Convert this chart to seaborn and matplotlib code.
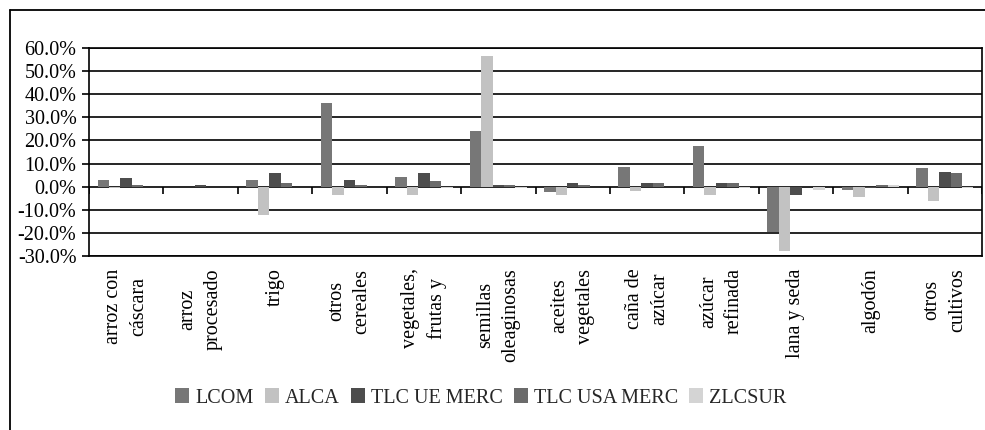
import numpy as np
import pandas as pd
import matplotlib
matplotlib.use("Agg")
import matplotlib.pyplot as plt
from matplotlib.lines import Line2D
from matplotlib.ticker import FuncFormatter
import seaborn as sns

# Crop categories (axis labels, two lines where the label wraps)
categories = [
    "arroz con\ncáscara", "arroz\nprocesado", "trigo", "otros\ncereales",
    "vegetales,\nfrutas y", "semillas\noleaginosas", "aceites\nvegetales",
    "caña de\nazúcar", "azúcar\nrefinada", "lana y seda", "algodón",
    "otros\ncultivos",
]
series_names = ["LCOM", "ALCA", "TLC UE MERC", "TLC USA MERC", "ZLCSUR"]

# Percentage change per scenario
lcom = [2.8, 0.0, 3.1, 36.4, 4.0, 24.0, -2.4, 8.6, 17.7, -19.7, -1.6, 7.9]
alca = [-0.5, 0.0, -12.4, -3.4, -3.4, 56.6, -3.8, -1.7, -3.4, -27.9, -4.5, -6.4]
tlc_ue = [3.9, 0.8, 5.7, 3.0, 6.0, 0.8, 1.7, 1.7, 1.7, -3.4, -0.6, 6.2]
tlc_usa = [0.8, 0.0, 1.7, 0.9, 2.6, 0.8, 0.9, 1.7, 1.7, 0.0, 0.8, 5.8]
zlcsur = [0.0, 0.0, 0.0, 0.0, -0.6, -0.5, 0.0, 0.0, -0.5, -1.6, 0.6, -0.5]

yticks = [-30, -20, -10, 0, 10, 20, 30, 40, 50, 60]
colors = ["#777777", "#c2c2c2", "#4d4d4d", "#6b6b6b", "#d4d4d4"]

sns.set_theme(style="white")
plt.rcParams["font.family"] = ["Liberation Serif", "DejaVu Serif"]
plt.rcParams["font.size"] = 14

rows = []
for name, vals in zip(series_names, [lcom, alca, tlc_ue, tlc_usa, zlcsur]):
    for cat, v in zip(categories, vals):
        rows.append({"categoria": cat, "serie": name, "valor": v})
df = pd.DataFrame(rows)

W, H = 985, 430
fig = plt.figure(figsize=(W / 100, H / 100), dpi=100)
fig.patch.set_facecolor("white")
ax = fig.add_axes([89 / W, 1 - 256 / H, (982 - 89) / W, (256 - 48) / H])

sns.barplot(
    data=df, x="categoria", y="valor", hue="serie",
    order=categories, hue_order=series_names, palette=colors,
    width=0.77, gap=0, errorbar=None, saturation=1, linewidth=0, ax=ax,
)

ax.set_xlim(-0.5, len(categories) - 0.5)
ax.set_ylim(-30, 60)
ax.set_yticks(yticks)
ax.yaxis.set_major_formatter(FuncFormatter(lambda v, p: f"{v:.1f}%"))
ax.grid(axis="y", color="black", linewidth=1.2)
ax.grid(axis="x", visible=False)
ax.set_axisbelow(True)
ax.set_xlabel("")
ax.set_ylabel("")

for side in ["left", "right", "top", "bottom"]:
    ax.spines[side].set_visible(True)
    ax.spines[side].set_color("black")
    ax.spines[side].set_linewidth(1.2)

ax.tick_params(axis="y", direction="out", length=5, width=1.2, color="black",
               pad=4, labelsize=14.5, left=True, labelcolor="black")
ax.tick_params(axis="x", length=0, pad=9, labelsize=14.5, labelcolor="black")
ax.set_xticks(range(len(categories)))
ax.set_xticklabels(categories, rotation=90, ha="center", va="top",
                   multialignment="center", linespacing=1.45)

# category tick marks hanging from the zero line
ax.vlines(np.arange(-0.5, len(categories), 1), 0, -3.0, color="black", linewidth=1.2)

handles, labels = ax.get_legend_handles_labels()
if ax.legend_ is not None:
    ax.legend_.remove()
fig.legend(handles, labels, loc="center", bbox_to_anchor=(481 / W, 1 - 398 / H),
           ncol=5, frameon=False, handlelength=0.7, handleheight=0.7,
           handletextpad=0.3, columnspacing=0.55, fontsize=14.5, borderaxespad=0)

# outer chart frame
fig.add_artist(Line2D([10 / W, 1], [1 - 10 / H, 1 - 10 / H], transform=fig.transFigure,
                      color="black", linewidth=1.3))
fig.add_artist(Line2D([10 / W, 10 / W], [0, 1 - 10 / H], transform=fig.transFigure,
                      color="black", linewidth=1.3))

fig.savefig("out.png", dpi=100)
